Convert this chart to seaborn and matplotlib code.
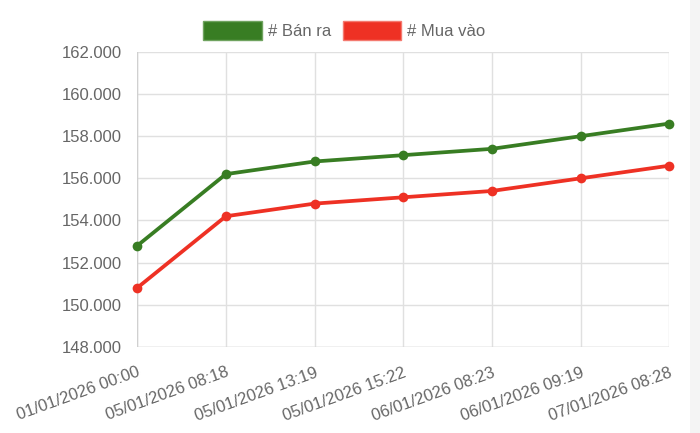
import pandas as pd
import matplotlib.pyplot as plt
import seaborn as sns
from matplotlib.patches import Patch, Rectangle
from matplotlib.ticker import FuncFormatter

green = '#387D23'
red = '#EE3124'

times = ['01/01/2026 00:00', '05/01/2026 08:18', '05/01/2026 13:19',
         '05/01/2026 15:22', '06/01/2026 08:23', '06/01/2026 09:19',
         '07/01/2026 08:28']
ban_ra = [152800, 156200, 156800, 157100, 157400, 158000, 158600]
mua_vao = [150800, 154200, 154800, 155100, 155400, 156000, 156600]
series_names = ['# Bán ra', '# Mua vào']

rows = []
for i, t in enumerate(times):
    rows.append((i, ban_ra[i], series_names[0]))
    rows.append((i, mua_vao[i], series_names[1]))
df = pd.DataFrame(rows, columns=['pos', 'value', 'series'])

sns.set_style('white')
plt.rcParams['font.family'] = ['Liberation Sans', 'DejaVu Sans']

fig = plt.figure(figsize=(7, 4.33), dpi=100)
ax = fig.add_axes([0.196, 0.199, 0.76, 0.681])

# grey strip on the right edge
fig.patches.append(Rectangle((690 / 700, 0), 10 / 700, 1, transform=fig.transFigure,
                             facecolor='#F4F4F4', edgecolor='none', zorder=0))

sns.lineplot(data=df, x='pos', y='value', hue='series', palette=[green, red],
             marker='o', markersize=7, markeredgewidth=0, linewidth=2.7,
             legend=False, ax=ax)
for ln in ax.lines:
    ln.set_clip_on(False)

ax.set_xlim(0, len(times) - 1)
ax.set_ylim(148000, 162000)
ax.set_yticks(range(148000, 162001, 2000))
ax.yaxis.set_major_formatter(FuncFormatter(lambda v, p: f'{int(v):,}'.replace(',', '.')))
ax.set_xticks(range(len(times)))
ax.set_xticklabels(times, rotation=20, ha='right', rotation_mode='anchor')
ax.set_xlabel('')
ax.set_ylabel('')

grid_c = '#E0E0E0'
ax.grid(True, color=grid_c, linewidth=1)
ax.tick_params(axis='both', length=7, width=1, color=grid_c, labelsize=12,
               labelcolor='#666666', pad=4)
ax.tick_params(axis='x', pad=6)
for s in ax.spines.values():
    s.set_visible(False)
ax.axhline(148000, color='#D0D0D0', linewidth=1, zorder=1)
ax.axvline(0, color='#D0D0D0', linewidth=1, zorder=1)

handles = [Patch(facecolor=green, edgecolor='#6FA35F', linewidth=1),
           Patch(facecolor=red, edgecolor='#F47A70', linewidth=1)]
fig.legend(handles, series_names, loc='center', bbox_to_anchor=(0.492, 1 - 30.5 / 433),
           ncol=2, frameon=False, handlelength=3.5, handleheight=1.3,
           handletextpad=0.36, columnspacing=0.7, fontsize=12, labelcolor='#666666',
           borderpad=0)

fig.savefig('out.png', dpi=100)
